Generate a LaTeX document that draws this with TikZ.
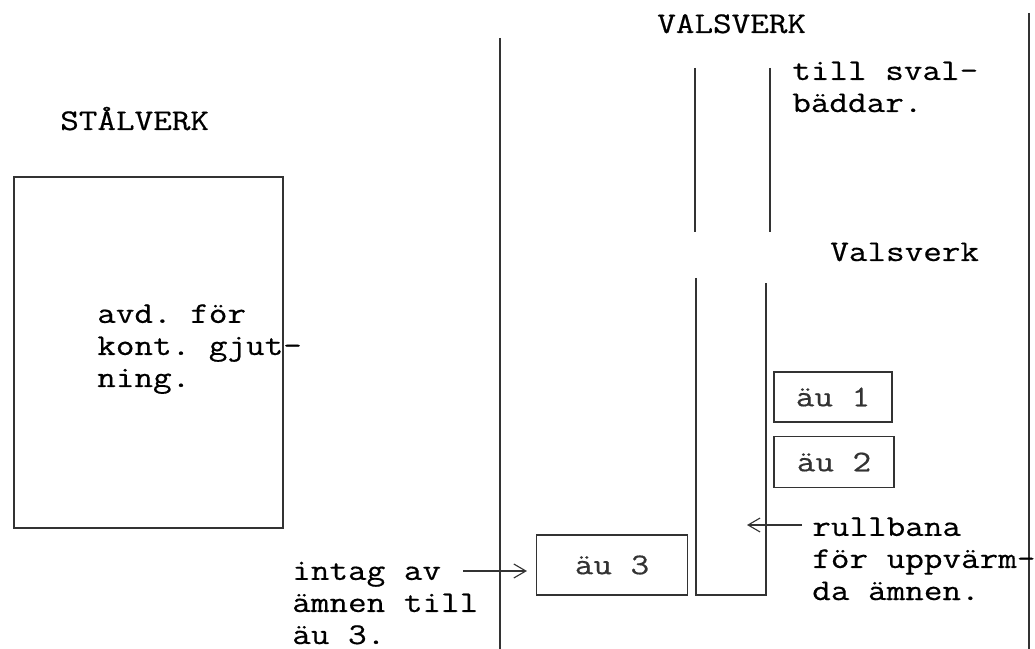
\documentclass[tikz,border=0pt]{standalone}
\usepackage{fontspec}
\setmonofont[FakeStretch=1.2,FakeBold=0.5]{Latin Modern Mono}
\usetikzlibrary{arrows.meta}
\def\px{0.025cm}
\tikzset{
    plan/.style={black!80, line width=0.8pt},
    label/.style={font=\ttfamily\fontsize{21.4}{22.8}\selectfont, align=left, inner sep=0pt, anchor=base west},
    oven/.style={plan, draw, font=\ttfamily\fontsize{21.4}{22.8}\selectfont, inner sep=0pt},
    feed/.style={plan, -{Straight Barb[length=3mm,width=3.5mm]}}
}
\begin{document}
\begin{tikzpicture}[x=0.025cm, y=-0.025cm]
        \useasboundingbox (0,0) rectangle (1035,649);

        % stalverk
        \node[label] (stalverk) at (60,130) {STÅLVERK};
        \draw[plan] (14,177) rectangle (283,528);
        \node[label] (kontgjut) at (97,387) {avd. för\\kont. gjut-\\ning.};

        % grans mellan verken
        \draw[plan] (500,38) -- (500,649);
        \draw[plan] (1029,13) -- (1029,649);

        % valsverk
        \node[label] (valsverk) at (657,33) {VALSVERK};
        \draw[plan] (695,68) -- (695,232);
        \draw[plan] (770,68) -- (770,232);
        \node[label] (svalbaddar) at (792,112) {till sval-\\bäddar.};
        \node[label] (valsverkb) at (830,261) {Valsverk};

        \draw[plan] (696,278) -- (696,595) -- (766,595) -- (766,283);

        \node[oven, minimum width=118*\px, minimum height=50*\px] (au1) at (833,397) {äu 1};
        \node[oven, minimum width=120*\px, minimum height=51*\px] (au2) at (834,462) {äu 2};
        \node[oven, minimum width=151*\px, minimum height=60*\px] (au3) at (612,565) {äu 3};

        \node[label] (rullbana) at (812,600) {rullbana\\för uppvärm-\\da ämnen.};
        \coordinate (rullstart) at (802,525);
        \coordinate (rulltip) at (747,525);
        \draw[feed] (rullstart) -- (rulltip);

        \node[label] (intag) at (292,644) {intag av\\ämnen till\\äu 3.};
        \coordinate (intagstart) at (463,571);
        \draw[feed, shorten >=9*\px] (intagstart) -- (intagstart -| au3.west);
    \end{tikzpicture}
\end{document}
